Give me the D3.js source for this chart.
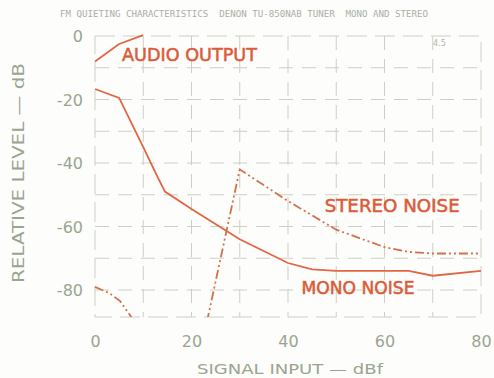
<!DOCTYPE html>
<html><head><meta charset="utf-8">
<script src="https://cdn.jsdelivr.net/npm/d3@7"></script>
<style>body{margin:0;background:#fdfdfb;} svg{display:block;}</style>
</head><body>
<script>
const title = "FM QUIETING CHARACTERISTICS  DENON TU-850NAB TUNER  MONO AND STEREO";
const xTicks = [0, 20, 40, 60, 80];
const yTicks = [0, -20, -40, -60, -80];
const gridX = [10, 20, 30, 40, 50, 60, 70];
const gridY = [-10, -20, -30, -40, -50, -60, -70, -80];
const audioX = [0, 5, 10];
const audioY = [-8, -2.5, 0.3];
const monoX = [0, 5, 10, 13, 14.5, 20, 30, 40, 45, 50, 60, 65, 70, 80];
const monoY = [-16.7, -19.5, -35, -44.5, -49, -54.5, -64, -71.5, -73.5, -74, -74, -74, -75.5, -74];
const stereoAX = [0, 3, 5.2, 8.2];
const stereoAY = [-79, -81, -83.5, -90];
const stereoBX = [23.2, 30, 40, 50, 60, 65, 70, 80];
const stereoBY = [-90, -42, -52, -61, -66.5, -68, -68.5, -68.5];
const labels = [
  {t: "AUDIO OUTPUT", x: 5.6, y: -7.8, w: 135},
  {t: "STEREO NOISE", x: 47.6, y: -55.5, w: 135},
  {t: "MONO NOISE", x: 42.8, y: -81.3, w: 113}
];

const W = 494, H = 378;
const svg = d3.select("body").append("svg").attr("width", W).attr("height", H);
const x = d3.scaleLinear().domain([0, 80]).range([95, 481]);
const y = d3.scaleLinear().domain([-88.5, 0]).range([317, 36]);
const lineCol = "#e06645";
const gridCol = "#cbd1c2";
const textCol = "#9aa58f";

// title
svg.append("text").attr("x", 60).attr("y", 17).attr("font-family", "DejaVu Sans Mono, monospace")
  .attr("font-size", 8).attr("fill", "#aab0a6").attr("textLength", 368).attr("lengthAdjust", "spacingAndGlyphs")
  .style("white-space", "pre")
  .text(title);

// grid
const g = svg.append("g");
g.selectAll(".gx").data(gridX).join("line")
  .attr("x1", d => x(d)).attr("x2", d => x(d)).attr("y1", y(0)).attr("y2", y(-88.5))
  .attr("stroke", gridCol).attr("stroke-width", 1).attr("stroke-dasharray", "14,9");
g.selectAll(".gy").data(gridY).join("line")
  .attr("y1", d => y(d)).attr("y2", d => y(d)).attr("x1", x(0)).attr("x2", x(80))
  .attr("stroke", gridCol).attr("stroke-width", 1).attr("stroke-dasharray", "14,9");
g.append("rect").attr("x", x(0)).attr("y", y(0)).attr("width", x(80) - x(0)).attr("height", y(-88.5) - y(0))
  .attr("fill", "none").attr("stroke", gridCol).attr("stroke-width", 1).attr("stroke-dasharray", "20,8");

// axes tick labels
const xAxis = d3.axisBottom(x).tickValues(xTicks).tickSize(0).tickPadding(0);
const xa = svg.append("g").attr("transform", "translate(0,347)").call(xAxis);
xa.select(".domain").remove();
xa.selectAll("text").attr("font-family", "DejaVu Sans, sans-serif").attr("font-size", 16)
  .attr("fill", textCol).attr("dy", 0).attr("y", 0);
const yAxis = d3.axisLeft(y).tickValues(yTicks).tickSize(0).tickPadding(0).tickFormat(d => d === 0 ? "0" : "-" + Math.abs(d));
const ya = svg.append("g").attr("transform", "translate(83,0)").call(yAxis);
ya.select(".domain").remove();
ya.selectAll("text").attr("font-family", "DejaVu Sans, sans-serif").attr("font-size", 16)
  .attr("fill", textCol).attr("dy", "0.35em");

// axis titles
svg.append("text").attr("x", 290).attr("y", 374).attr("text-anchor", "middle")
  .attr("font-family", "DejaVu Sans, sans-serif").attr("font-size", 14).attr("fill", textCol)
  .attr("textLength", 186).attr("lengthAdjust", "spacingAndGlyphs")
  .text("SIGNAL INPUT — dBf");
svg.append("text").attr("transform", "translate(24,173) rotate(-90)").attr("text-anchor", "middle")
  .attr("font-family", "DejaVu Sans, sans-serif").attr("font-size", 15).attr("fill", textCol)
  .attr("textLength", 220).attr("lengthAdjust", "spacingAndGlyphs")
  .text("RELATIVE LEVEL — dB");
svg.append("text").attr("x", 433).attr("y", 46).attr("font-family", "DejaVu Sans, sans-serif")
  .attr("font-size", 8).attr("fill", "#b0b6ab").text("4.5");

// clip
svg.append("clipPath").attr("id", "clip").append("rect")
  .attr("x", x(0) - 2).attr("y", y(0) - 4).attr("width", x(80) - x(0) + 4).attr("height", y(-88.5) - y(0) + 4);
const plot = svg.append("g").attr("clip-path", "url(#clip)");
const line = d3.line().x(d => x(d[0])).y(d => y(d[1]));
const zip = (a, b) => a.map((v, i) => [v, b[i]]);

plot.append("path").datum(zip(audioX, audioY)).attr("d", line)
  .attr("fill", "none").attr("stroke", lineCol).attr("stroke-width", 1.8);
plot.append("path").datum(zip(monoX, monoY)).attr("d", line)
  .attr("fill", "none").attr("stroke", lineCol).attr("stroke-width", 1.8);
[zip(stereoAX, stereoAY), zip(stereoBX, stereoBY)].forEach(dd => {
  plot.append("path").datum(dd).attr("d", line)
    .attr("fill", "none").attr("stroke", "#d2714c").attr("stroke-width", 1.8)
    .attr("stroke-dasharray", "9,3,2,3,2,3");
});

// labels
svg.selectAll(".lbl").data(labels).join("text")
  .attr("x", d => x(d.x)).attr("y", d => y(d.y))
  .attr("font-family", "DejaVu Sans, sans-serif").attr("font-size", 17)
  .attr("fill", "#dc5a38").attr("stroke", "#dc5a38").attr("stroke-width", 0.5)
  .attr("textLength", d => d.w).attr("lengthAdjust", "spacingAndGlyphs")
  .text(d => d.t);
</script>
</body></html>
